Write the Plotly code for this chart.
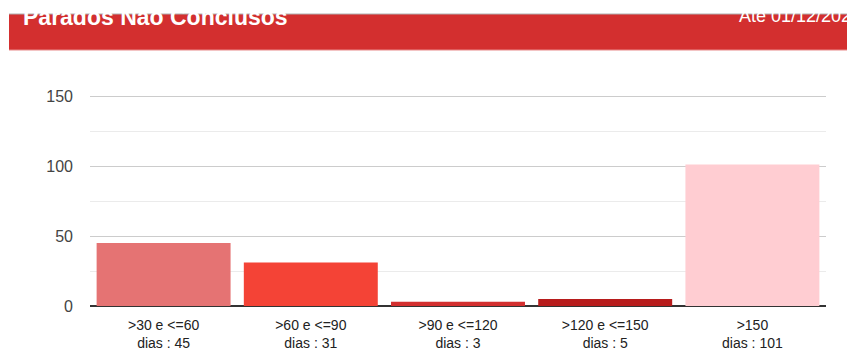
import plotly.graph_objects as go

# Faixas de dias parados e quantidade de processos em cada faixa
faixas = [">30 e <=60", ">60 e <=90", ">90 e <=120", ">120 e <=150", ">150"]
quantidades = [45, 31, 3, 5, 101]
cores = ["#e57373", "#f44336", "#d32f2f", "#b71c1c", "#ffcdd2"]
y_ticks = [0, 50, 100, 150]

titulo = "Parados Não Conclusos"
data_ref = "Até 01/12/2020"


def esc(s):
    return s.replace("<", "&lt;").replace(">", "&gt;")


rotulos = [f"{esc(f)}<br>dias : {q}" for f, q in zip(faixas, quantidades)]

W, H = 847, 354
L, R, T, B = 90, 21, 92, 48
pw, ph = W - L - R, H - T - B
y_max = 150 * ph / 210  # deixa uma pequena folga acima da linha de 150


def px_x(x):
    return (x - L) / pw


def px_y(y):
    return (H - B - y) / ph


fig = go.Figure(
    go.Bar(
        x=faixas,
        y=quantidades,
        marker=dict(color=cores, line=dict(width=0)),
        hoverinfo="skip",
    )
)

# Faixa vermelha do cabeçalho
fig.add_shape(
    type="rect", xref="paper", yref="paper",
    x0=px_x(9), x1=px_x(850), y0=px_y(50), y1=px_y(14),
    fillcolor="#d32f2f", line=dict(width=0), layer="below",
)
fig.add_shape(
    type="line", xref="paper", yref="paper",
    x0=px_x(9), x1=px_x(850), y0=px_y(14), y1=px_y(14),
    line=dict(color="#b0b0b0", width=1),
)
fig.add_shape(
    type="line", xref="paper", yref="paper",
    x0=px_x(9), x1=px_x(850), y0=px_y(50), y1=px_y(50),
    line=dict(color="#e88a8a", width=1),
)
fig.add_annotation(
    xref="paper", yref="paper", x=px_x(21), y=px_y(17),
    xanchor="left", yanchor="middle", showarrow=False,
    text=f"<b>{titulo}</b>",
    font=dict(family="Liberation Sans, Arial", size=23, color="white"),
)
fig.add_annotation(
    xref="paper", yref="paper", x=px_x(737), y=px_y(16),
    xanchor="left", yanchor="middle", showarrow=False,
    text=data_ref,
    font=dict(family="Liberation Sans, Arial", size=18, color="white"),
)

fig.update_layout(
    width=W, height=H,
    margin=dict(l=L, r=R, t=T, b=B, pad=0),
    paper_bgcolor="white", plot_bgcolor="white",
    bargap=0.09,
    showlegend=False,
    font=dict(family="Liberation Sans, Arial"),
)
fig.update_xaxes(
    tickmode="array", tickvals=faixas, ticktext=rotulos,
    tickfont=dict(size=14, color="#222222"),
    showline=False, showgrid=False, ticks="",
    ticklabelstandoff=9, automargin=False,
    fixedrange=True,
)
fig.update_yaxes(
    range=[0, y_max], tickmode="array", tickvals=y_ticks,
    tickfont=dict(size=16, color="#444444"),
    showgrid=True, gridcolor="#cccccc", gridwidth=1,
    minor=dict(dtick=25, tick0=0, showgrid=True, gridcolor="#ebebeb", gridwidth=1, ticks=""),
    zeroline=True, zerolinecolor="#333333", zerolinewidth=2,
    showline=False, ticks="", ticklabelstandoff=16, automargin=False,
    fixedrange=True,
)

fig.write_html("out.html")
